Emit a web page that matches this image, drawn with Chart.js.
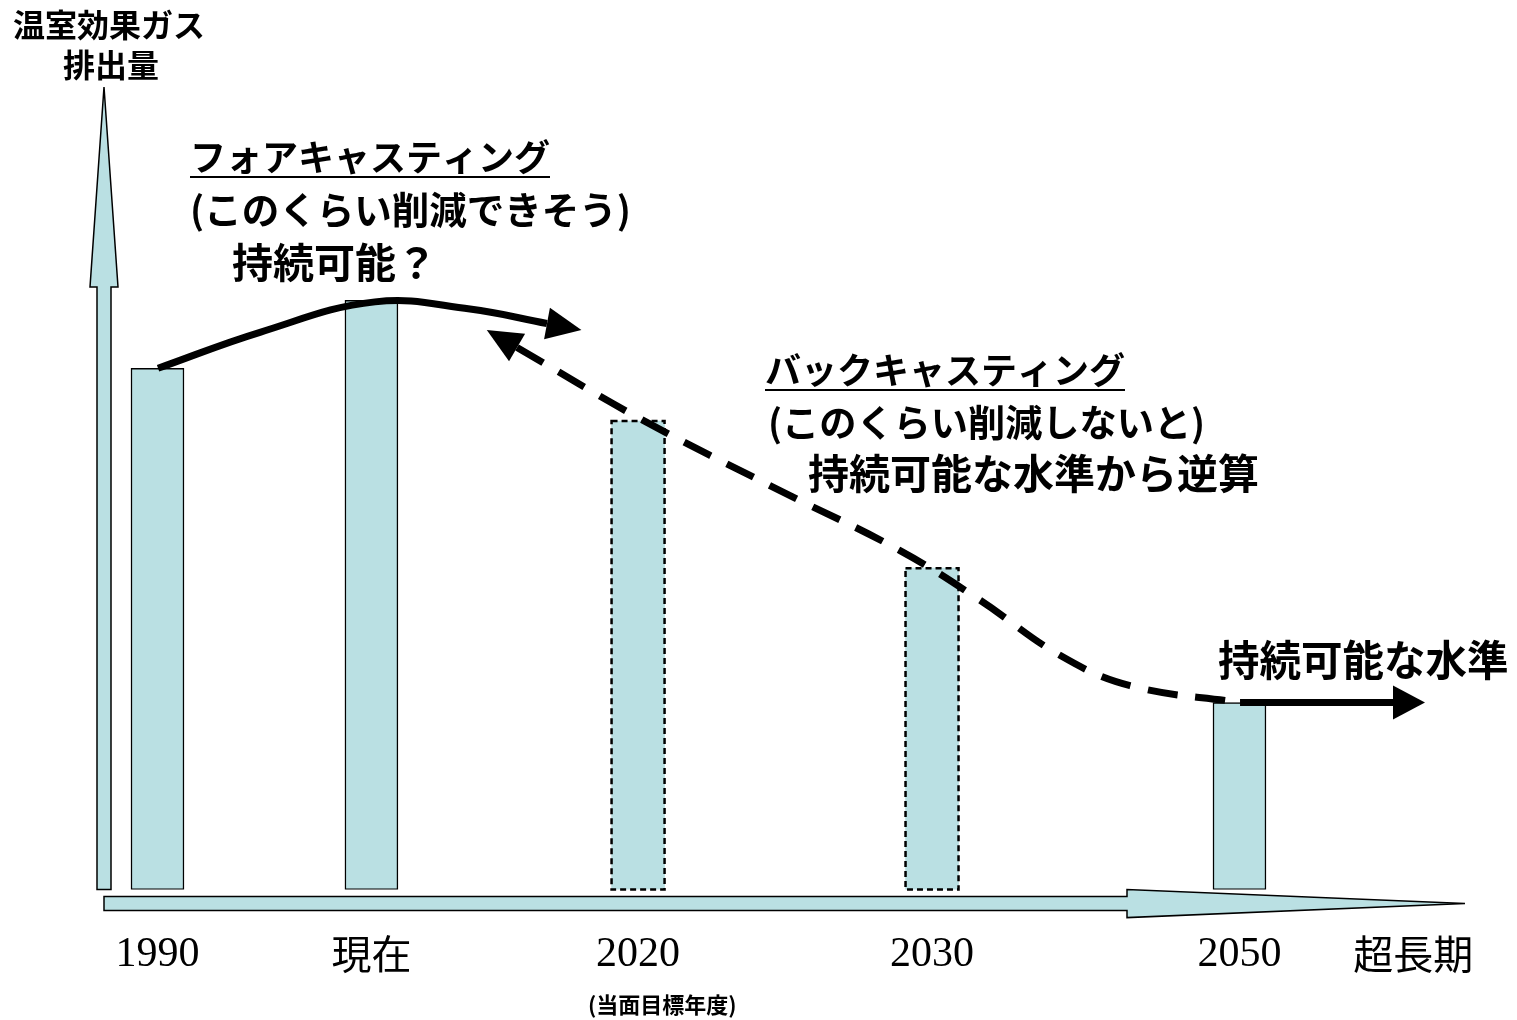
<!DOCTYPE html>
<html lang="ja">
<head>
<meta charset="utf-8">
<title>フォアキャスティングとバックキャスティング</title>
<script src="https://cdn.jsdelivr.net/npm/chart.js@4.4.1/dist/chart.umd.min.js"></script>
<style>
  html, body { margin: 0; padding: 0; background: #fff; }
  #wrap { width: 1517px; height: 1020px; position: relative; }
</style>
</head>
<body>
<div id="wrap"><canvas id="chart"></canvas></div>
<script>
// Periods on the time axis (positions 0-100, not evenly spaced)
const periods = ['1990', '現在', '2020', '2030', '2050'];
const periodPos = [3.93, 19.65, 39.24, 60.84, 83.43];
const emissions = [65.2, 73.7, 58.6, 40.2, 23.4];
const isTarget = [false, false, true, true, false];   // dashed outline = target year
const farLabel = '超長期';
const farPos = 96.2;

// Forecasting curve (solid)
const forecastX = [3.97, 11.46, 19.91, 26.89, 32.55];
const forecastY = [65.2, 69.7, 73.5, 72.6, 70.8];
// Backcasting curve (dashed, arrow points back to the present)
const backcastX = [30.35, 39.38, 49.67, 58.49, 64.36, 70.24, 75.39, 83.47];
const backcastY = [67.8, 58.9, 49.9, 42.4, 36.2, 29.3, 25.5, 23.4];
// Sustainable level
const sustainX = [83.47, 94.71];
const sustainY = [23.4, 23.4];

const tickPos = [...periodPos, farPos];
const tickLabels = [...periods, farLabel];

const BAR_FILL = '#bae0e3';
const JP = '"Noto Sans CJK JP", "Noto Sans", sans-serif';

const toPoints = (xs, ys) => xs.map((x, i) => ({ x: x, y: ys[i] }));

// light blue axis arrows, drawn behind everything
const axisArrows = {
    id: 'axisArrows',
    beforeDatasetsDraw(chart) {
        const a = chart.chartArea;
        const c = chart.ctx;
        c.save();
        c.fillStyle = BAR_FILL;
        c.strokeStyle = '#000';
        c.lineWidth = 1.5;
        // vertical
        c.beginPath();
        c.moveTo(a.left - 7, a.bottom);
        c.lineTo(a.left - 7, a.top + 197);
        c.lineTo(a.left - 14, a.top + 197);
        c.lineTo(a.left, a.top - 3);
        c.lineTo(a.left + 14, a.top + 197);
        c.lineTo(a.left + 7, a.top + 197);
        c.lineTo(a.left + 7, a.bottom);
        c.closePath();
        c.fill(); c.stroke();
        // horizontal
        const y = a.bottom + 14;
        const hx = a.right - 338;
        c.beginPath();
        c.moveTo(a.left, y - 7);
        c.lineTo(hx, y - 7);
        c.lineTo(hx, y - 14);
        c.lineTo(a.right, y);
        c.lineTo(hx, y + 14);
        c.lineTo(hx, y + 7);
        c.lineTo(a.left, y + 7);
        c.closePath();
        c.fill(); c.stroke();
        c.restore();
    }
};

// dashed outline for target-year bars
const dashedBars = {
    id: 'dashedBars',
    afterDatasetDraw(chart, args) {
        if (args.meta.type !== 'bar') return;
        const c = chart.ctx;
        c.save();
        c.strokeStyle = '#000';
        c.lineWidth = 2.5;
        c.setLineDash([6, 4]);
        args.meta.data.forEach((bar, i) => {
            if (!isTarget[i]) return;
            const p = bar.getProps(['x', 'y', 'base', 'width'], true);
            c.strokeRect(p.x - p.width / 2, p.y, p.width, p.base - p.y);
        });
        c.restore();
    }
};

// arrowheads on the curves
const arrowHeads = {
    id: 'arrowHeads',
    afterDatasetsDraw(chart) {
        const c = chart.ctx;
        chart.data.datasets.forEach((ds, i) => {
            if (!ds.arrow) return;
            const pts = chart.getDatasetMeta(i).data;
            let p, q;
            if (ds.arrow.at === 'start') { p = pts[0]; q = pts[1]; }
            else { p = pts[pts.length - 1]; q = pts[pts.length - 2]; }
            let dx = p.x - q.x, dy = p.y - q.y;
            const d = Math.hypot(dx, dy);
            dx /= d; dy /= d;
            const L = ds.arrow.len, W = ds.arrow.width / 2;
            c.save();
            c.fillStyle = '#000';
            c.beginPath();
            c.moveTo(p.x + dx * L, p.y + dy * L);
            c.lineTo(p.x - dy * W, p.y + dx * W);
            c.lineTo(p.x + dy * W, p.y - dx * W);
            c.closePath();
            c.fill();
            c.restore();
        });
    }
};

// titles and annotations
const texts = {
    id: 'texts',
    afterDraw(chart) {
        const c = chart.ctx;
        c.save();
        c.fillStyle = '#000';
        c.textBaseline = 'middle';

        c.textAlign = 'center';
        c.font = 'bold 32px ' + JP;
        c.fillText('温室効果ガス', 109, 25);
        c.fillText('排出量', 111, 65);

        c.textAlign = 'left';
        const line = (t, x, y, size, underline) => {
            c.font = 'bold ' + size + 'px ' + JP;
            c.fillText(t, x, y);
            if (underline) {
                const w = c.measureText(t).width;
                c.fillRect(x, y + 19, w, 2);
            }
        };
        line('フォアキャスティング', 190, 157, 36, true);
        line('(このくらい削減できそう)', 190, 210, 37.5);
        line('持続可能？', 232, 262, 41);
        line('バックキャスティング', 765, 370, 36, true);
        line('(このくらい削減しないと)', 768, 423, 37.2);
        line('持続可能な水準から逆算', 808, 473, 41);
        line('持続可能な水準', 1218, 660, 41.5);

        c.font = 'bold 22px ' + JP;
        c.fillText('(当面目標年度)', 588, 1005);
        c.restore();
    }
};

const ctx = document.getElementById('chart').getContext('2d');
const chart = new Chart(ctx, {
    type: 'bar',
    data: {
        datasets: [
            {
                type: 'line',
                label: 'フォアキャスティング',
                data: toPoints(forecastX, forecastY),
                borderColor: '#000',
                borderWidth: 7,
                tension: 0.4,
                pointRadius: 0,
                fill: false,
                order: 1,
                arrow: { at: 'end', len: 35, width: 32 }
            },
            {
                type: 'line',
                label: 'バックキャスティング',
                data: toPoints(backcastX, backcastY),
                borderColor: '#000',
                borderWidth: 7,
                borderDash: [30, 18],
                tension: 0.4,
                pointRadius: 0,
                fill: false,
                order: 1,
                arrow: { at: 'start', len: 35, width: 32 }
            },
            {
                type: 'line',
                label: '持続可能な水準',
                data: toPoints(sustainX, sustainY),
                borderColor: '#000',
                borderWidth: 7,
                tension: 0,
                pointRadius: 0,
                fill: false,
                order: 1,
                arrow: { at: 'end', len: 32, width: 34 }
            },
            {
                label: '排出量',
                data: toPoints(periodPos, emissions),
                backgroundColor: BAR_FILL,
                borderColor: '#000',
                borderWidth: ctx => isTarget[ctx.dataIndex] ? 0 : 1.5,
                borderSkipped: false,
                barThickness: 53,
                order: 2
            }
        ]
    },
    options: {
        responsive: true,
        maintainAspectRatio: false,
        animation: false,
        layout: {
            padding: { left: 104, right: 52, top: 90, bottom: 0 }
        },
        scales: {
            x: {
                type: 'linear',
                min: 0,
                max: 100,
                offset: false,
                grid: { display: false, drawTicks: false },
                border: { display: false },
                afterBuildTicks: axis => {
                    axis.ticks = tickPos.map(v => ({ value: v }));
                },
                ticks: {
                    autoSkip: false,
                    maxRotation: 0,
                    padding: 40,
                    color: '#000',
                    callback: (v, i) => tickLabels[i],
                    font: c => /^\d+$/.test(tickLabels[c.index])
                        ? { family: '"Liberation Serif", serif', size: 42 }
                        : { family: JP, size: 40 }
                }
            },
            y: {
                display: false,
                min: 0,
                max: 100
            }
        },
        plugins: {
            legend: { display: false },
            tooltip: { enabled: false }
        }
    },
    plugins: [axisArrows, dashedBars, arrowHeads, texts]
});
</script>
</body>
</html>
